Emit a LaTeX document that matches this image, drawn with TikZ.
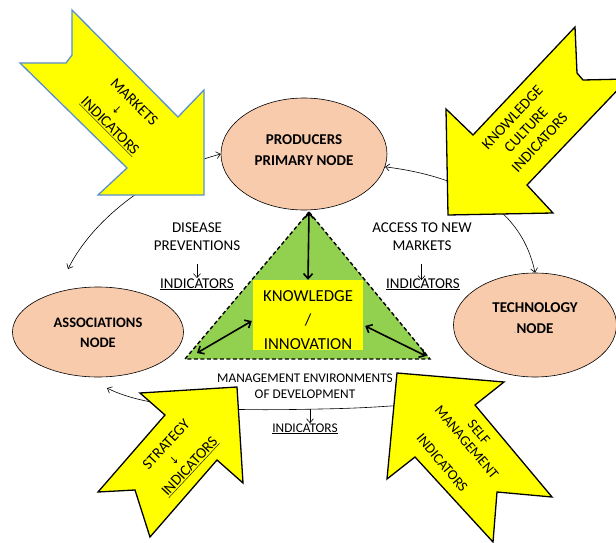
\documentclass[tikz,border=0pt]{standalone}
\usepackage{fontspec}
\setmainfont{Carlito}
\newfontfamily\symf{DejaVu Sans}
\usetikzlibrary{shapes.geometric,arrows.meta,calc}
\definecolor{peach}{HTML}{F8CBAD}
\definecolor{leaf}{HTML}{92D050}
\definecolor{yel}{HTML}{FFFF00}
\definecolor{mblue}{HTML}{5B8FD0}
\begin{document}
\begin{tikzpicture}[x=1pt,y=-1pt,
  nodeell/.style={ellipse,draw=black,line width=0.6pt,fill=peach,inner sep=0pt},
  boldtxt/.style={inner sep=0pt,align=center,font=\fontsize{15}{21}\selectfont\bfseries},
  plaintxt/.style={inner sep=0pt,align=center,font=\fontsize{15}{18}\selectfont},
  smalltxt/.style={inner sep=0pt,align=center,font=\fontsize{13.3}{16.5}\selectfont},
  blockarrow/.style={fill=yel,draw=black,line width=1.3pt,line join=miter},
  dlink/.style={{Straight Barb[length=4pt,width=7pt]}-{Straight Barb[length=4pt,width=7pt]},line width=0.6pt},
  slink/.style={-{Straight Barb[length=4pt,width=7pt]},line width=0.6pt},
  tarrow/.style={{Straight Barb[length=5pt,width=9pt]}-{Straight Barb[length=5pt,width=9pt]},line width=1.6pt},
  tri/.style={fill=leaf,draw=black,line width=1.4pt,dash pattern=on 4pt off 2.5pt,line join=miter},
  arrtxt/.style={inner sep=0pt,align=center,font=\fontsize{15.3}{17}\selectfont},
  dn/.style={}
]
\useasboundingbox (0,0) rectangle (616,543);
\fill[white] (0,0) rectangle (616,543);
\clip (0,0) rectangle (616,543);

% ellipses
\node[nodeell,minimum width=166pt,minimum height=112pt] (prod) at (304,154) {};
\node[nodeell,minimum width=171pt,minimum height=90pt] (assoc) at (98,332) {};
\node[nodeell,minimum width=163pt,minimum height=104pt] (tech) at (535,325) {};
\node[boldtxt] (prodtxt) at (304,150) {PRODUCERS\\PRIMARY NODE};
\node[boldtxt,font=\fontsize{14.5}{20}\selectfont\bfseries] (assoctxt) at (98,333) {ASSOCIATIONS\\NODE};
\node[boldtxt] (techtxt) at (535,318) {TECHNOLOGY\\\llap{\color{gray!50}\mdseries.}NODE};

% curved connectors (partly hidden under the block arrows)
\coordinate (aTop) at (68,269);
\coordinate (aBot) at (107,388);
\coordinate (sTail) at (470,398);
\draw[dlink] (prod.west) .. controls (160,170) and (95,215) .. (aTop);
\draw[dlink] (prod.-9) .. controls (450,175) and (520,200) .. (tech.north);
\draw[slink] (sTail) .. controls (420,404) and (380,408) .. (320,409)
  .. controls (230,411) and (150,410) .. (aBot);

% triangle
\coordinate (apex) at (309,212);
\coordinate (tl) at (185,359);
\coordinate (tr) at (430,359);
\draw[tri] (apex) -- (tr) -- (tl) -- cycle;
\node[fill=yel,minimum width=110pt,minimum height=70pt,inner sep=0pt] (kbox) at (308,315) {};
\begin{scope}
\clip (kbox.south west) rectangle (kbox.north east);
\node[inner sep=0pt,align=center,font=\fontsize{16.8}{24}\selectfont] (ktxt) at (308,320) {KNOWLEDGE\\/\\INNOVATION};
\end{scope}
\coordinate (tlc) at (197,353);
\coordinate (trc) at (426,356);
\draw[tarrow] (apex) -- (kbox.north);
\draw[tarrow] (tlc) -- ($(kbox.west)+(-1,6)$);
\draw[tarrow] ($(kbox.east)+(2,11)$) -- (trc);

% side texts
\node[plaintxt] (dis) at (197,236.5) {DISEASE\\PREVENTIONS};
\node[plaintxt,anchor=base] (ind1) at (197,288) {\underline{INDICATORS}};
\coordinate (d1) at (197,264);
\draw[slink] (d1) -- (d1 |- ind1.north);

\node[plaintxt] (acc) at (422,236.5) {ACCESS TO NEW\\MARKETS};
\node[plaintxt,anchor=base] (ind2) at (423,288) {\underline{INDICATORS}};
\coordinate (a1) at (421.5,264);
\draw[slink] (a1) -- ($(a1 |- ind2.north)+(0,2)$);

\node[smalltxt] (mgmt) at (305,386) {MANAGEMENT ENVIRONMENTS\\OF DEVELOPMENT};
\node[smalltxt,anchor=base] (ind3) at (305,432) {\underline{INDICATORS}};
\coordinate (m1) at (310,409);
\draw[slink] (m1) -- (m1 |- ind3.north);

% block arrows
\draw[blockarrow,draw=mblue] (72,10) -- (72,55) -- (66,63) -- (20,63) -- (127,168) -- (98,195)
  -- (204,195) -- (204,90) -- (178,117) -- cycle;
\node[arrtxt,rotate=-45] (mkt) at (121.5,114.5)
  {MARKETS\\\makebox[22pt][l]{\symf\fontsize{11}{11}\selectfont ↓}\\\underline{INDICATORS}};

\draw[blockarrow] (575,27) -- (577,73) -- (583,80) -- (628,79) -- (527,185) -- (553,213)
  -- (448,215) -- (446,109) -- (473,135) -- cycle;
\node[arrtxt,rotate=47,font=\fontsize{15.2}{18.7}\selectfont] (kc) at (526,130)
  {KNOWLEDGE\\CULTURE\\INDICATORS};

\draw[blockarrow] (237,387) -- (243,483) -- (217,460) -- (150,537) -- (135,490)
  -- (98,492) -- (165,415) -- (140,393) -- cycle;
\node[arrtxt,rotate=47,font=\fontsize{15.2}{16}\selectfont] (strat) at (178.5,456)
  {STRATEGY\\\makebox[22pt][l]{\symf\fontsize{11}{11}\selectfont ↓}\\\underline{INDICATORS}};

\draw[blockarrow] (397,373) -- (504,382) -- (475,405) -- (552,497) -- (497,492)
  -- (493,542) -- (415,457) -- (387,479) -- cycle;
\node[arrtxt,rotate=-50,font=\fontsize{14.4}{16}\selectfont] (selfm) at (460.5,447.5)
  {SELF\\MANAGEMENT\\\mbox{}\\INDICATORS};
\end{tikzpicture}
\end{document}
